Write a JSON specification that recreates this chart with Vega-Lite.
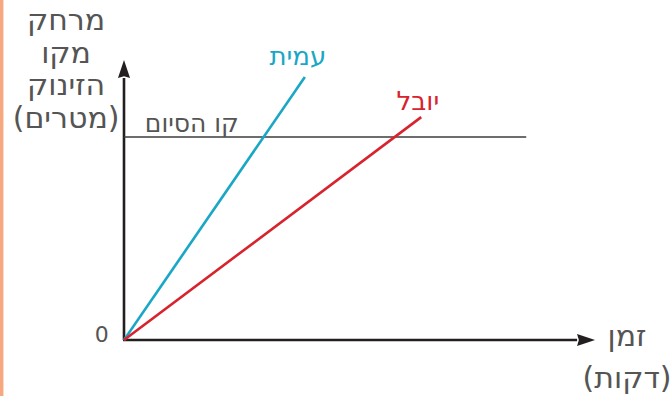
{
  "$schema": "https://vega.github.io/schema/vega-lite/v6.json",
  "width": 471,
  "height": 280,
  "autosize": {"type": "none"},
  "padding": {"left": 124, "top": 60, "right": 77, "bottom": 56},
  "background": "white",
  "config": {"view": {"stroke": null}, "font": "DejaVu Sans"},
  "layer": [
    {
      "data": {"values": [{"x1": -26.4, "x2": -25.6, "y1": 122, "y2": -21}]},
      "mark": {"type": "rect", "color": "#f6a97f", "clip": false},
      "encoding": {
        "x": {"field": "x1", "type": "quantitative", "scale": {"domain": [0, 100], "nice": false, "zero": false}, "axis": null},
        "x2": {"field": "x2"},
        "y": {"field": "y1", "type": "quantitative", "scale": {"domain": [0, 100], "nice": false, "zero": false}, "axis": null},
        "y2": {"field": "y2"}
      }
    },
    {
      "data": {"values": [
        {"x1": 0, "y1": 0, "x2": 0, "y2": 93.6},
        {"x1": -0.2, "y1": 0, "x2": 96.2, "y2": 0}
      ]},
      "mark": {"type": "rule", "color": "#231f20", "strokeWidth": 2.6},
      "encoding": {
        "x": {"field": "x1", "type": "quantitative"},
        "x2": {"field": "x2"},
        "y": {"field": "y1", "type": "quantitative"},
        "y2": {"field": "y2"}
      }
    },
    {
      "data": {"values": [{"x1": 0, "y1": 72.5, "x2": 85.4, "y2": 72.5}]},
      "mark": {"type": "rule", "color": "#3d3d3d", "strokeWidth": 1.4},
      "encoding": {
        "x": {"field": "x1", "type": "quantitative"},
        "x2": {"field": "x2"},
        "y": {"field": "y1", "type": "quantitative"},
        "y2": {"field": "y2"}
      }
    },
    {
      "data": {"values": [
        {"runner": "עמית", "t": 0, "d": 0},
        {"runner": "עמית", "t": 38.4, "d": 93.9},
        {"runner": "יובל", "t": 0, "d": 0},
        {"runner": "יובל", "t": 63.1, "d": 79.6}
      ]},
      "mark": {"type": "line", "strokeWidth": 2.6},
      "encoding": {
        "x": {"field": "t", "type": "quantitative"},
        "y": {"field": "d", "type": "quantitative"},
        "color": {"field": "runner", "type": "nominal", "scale": {"domain": ["עמית", "יובל"], "range": ["#1aa7c6", "#d8232e"]}, "legend": null},
        "detail": {"field": "runner"}
      }
    },
    {
      "data": {"values": [
        {"dir": "up", "x": 0, "y": 96.8},
        {"dir": "right", "x": 98.1, "y": 0}
      ]},
      "mark": {"type": "point", "filled": true, "size": 324, "opacity": 1, "color": "#231f20"},
      "encoding": {
        "x": {"field": "x", "type": "quantitative"},
        "y": {"field": "y", "type": "quantitative"},
        "shape": {"field": "dir", "type": "nominal", "scale": {"domain": ["up", "right"], "range": ["M0,-1L0.67,1L0,0.8L-0.67,1Z", "M1,0L-1,-0.67L-0.8,0L-1,0.67Z"]}, "legend": null}
      }
    },
    {
      "data": {"values": [
        {"runner": "עמית", "x": 36.9, "y": 101.1},
        {"runner": "יובל", "x": 62.4, "y": 85}
      ]},
      "mark": {"type": "text", "fontSize": 26, "baseline": "middle", "align": "center"},
      "encoding": {
        "x": {"field": "x", "type": "quantitative"},
        "y": {"field": "y", "type": "quantitative"},
        "text": {"field": "runner"},
        "color": {"field": "runner", "type": "nominal", "legend": null}
      }
    },
    {
      "data": {"values": [{"label": "קו הסיום", "x": 14.4, "y": 77.0}]},
      "mark": {"type": "text", "fontSize": 25, "baseline": "middle", "align": "center", "color": "#555555"},
      "encoding": {
        "x": {"field": "x", "type": "quantitative"},
        "y": {"field": "y", "type": "quantitative"},
        "text": {"field": "label"}
      }
    },
    {
      "data": {"values": [{"label": "0", "x": -4.7, "y": 1.8}]},
      "mark": {"type": "text", "fontSize": 22, "baseline": "middle", "align": "center", "color": "#555555"},
      "encoding": {
        "x": {"field": "x", "type": "quantitative"},
        "y": {"field": "y", "type": "quantitative"},
        "text": {"field": "label"}
      }
    },
    {
      "data": {"values": [
        {"label": "מרחק\nמקו\nהזינוק\n(מטרים)", "x": -12.3, "y": 113.9}
      ]},
      "mark": {"type": "text", "fontSize": 30, "baseline": "middle", "align": "center", "color": "#555555", "lineBreak": "\n", "lineHeight": 32.5},
      "encoding": {
        "x": {"field": "x", "type": "quantitative"},
        "y": {"field": "y", "type": "quantitative"},
        "text": {"field": "label"}
      }
    },
    {
      "data": {"values": [
        {"label": "זמן\n(דקות)", "x": 106.8, "y": 1.1}
      ]},
      "mark": {"type": "text", "fontSize": 30, "baseline": "middle", "align": "center", "color": "#555555", "lineBreak": "\n", "lineHeight": 42},
      "encoding": {
        "x": {"field": "x", "type": "quantitative"},
        "y": {"field": "y", "type": "quantitative"},
        "text": {"field": "label"}
      }
    }
  ]
}
